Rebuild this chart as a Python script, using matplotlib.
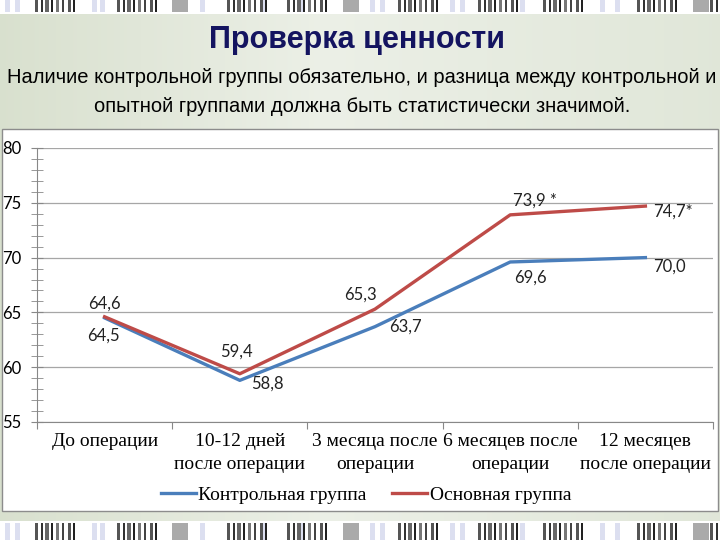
import numpy as np
import matplotlib
matplotlib.use("Agg")
import matplotlib.pyplot as plt
from matplotlib.patches import Rectangle

# chart data
categories = ["До операции", "10-12 дней\nпосле операции", "3 месяца после\nоперации",
              "6 месяцев после\nоперации", "12 месяцев\nпосле операции"]
control = [64.5, 58.8, 63.7, 69.6, 70.0]
main_group = [64.6, 59.4, 65.3, 73.9, 74.7]
control_labels = ["64,5", "58,8", "63,7", "69,6", "70,0"]
main_labels = ["64,6", "59,4", "65,3", "73,9 *", "74,7*"]
series_names = ["Контрольная группа", "Основная группа"]

title = "Проверка ценности"
subtitle = ["Наличие контрольной группы обязательно, и разница между контрольной и",
            "опытной группами должна быть статистически значимой."]

BLUE = "#4a7ebb"
RED = "#be4b48"
W, H = 720, 540


def fx(px):
    return px / W


def fy(py):
    return 1 - py / H


fig = plt.figure(figsize=(7.2, 5.4), dpi=100)
fig.patch.set_facecolor("white")

# slide background gradient (greenish, lighter towards the middle)
bg = fig.add_axes([0, 0, 1, 1], zorder=-10)
bg.axis("off")
stops_x = [0.0, 0.45, 1.0]
stops_c = np.array([[0.85, 0.88, 0.81], [0.925, 0.94, 0.905], [0.88, 0.905, 0.85]])
grad = np.linspace(0, 1, 256)
cols = np.stack([np.interp(grad, stops_x, stops_c[:, k]) for k in range(3)], axis=1)
bg.imshow(cols[np.newaxis, :, :], extent=[0, 1, fy(521), fy(14)], aspect="auto")
bg.set_xlim(0, 1)
bg.set_ylim(0, 1)

# decorative barcode stripes top & bottom
clusters = [35, 117, 227, 287, 398, 478, 543, 637, 710]
greys = [172, 343, 693]
lights = [5, 15, 92, 100, 200, 262, 300, 370, 380, 450, 460, 520, 600, 615]
sub = [(0, 3, "#555555"), (6, 2, "#333333"), (10, 4, "#666666"), (16, 2, "#222222"),
       (21, 3, "#777777"), (27, 2, "#444444"), (33, 3, "#555555"), (38, 2, "#222222")]
for y0, y1 in [(0, 12), (523, 540)]:
    for s in lights:
        bg.add_patch(Rectangle((fx(s), fy(y1)), fx(5), (y1 - y0) / H, color="#dcdff0", lw=0))
    for s in greys:
        bg.add_patch(Rectangle((fx(s), fy(y1)), fx(16), (y1 - y0) / H, color="#aaaaaa", lw=0))
    for s in clusters:
        for off, w, c in sub:
            bg.add_patch(Rectangle((fx(s + off), fy(y1)), fx(w), (y1 - y0) / H, color=c, lw=0))

# chart box
bg.add_patch(Rectangle((fx(2), fy(511)), fx(716), (511 - 129) / H,
                       facecolor="white", edgecolor="#8c8c8c", lw=1))

# title & subtitle
fig.text(fx(357), fy(40), title, ha="center", va="center", fontsize=22, fontweight="bold",
         color="#141460", family="Liberation Sans")
for i, line in enumerate(subtitle):
    fig.text(fx(362), fy(78 + 28 * i), line, ha="center", va="center", fontsize=14.5,
             color="black", family="Liberation Sans")

# plot area
ax = fig.add_axes([fx(37), fy(422), fx(713 - 37), (422 - 148) / H])
ax.set_facecolor("none")
x = np.arange(len(categories))
ax.plot(x, control, color=BLUE, lw=2.4)
ax.plot(x, main_group, color=RED, lw=2.4)
ax.set_xlim(-0.5, 4.5)
ax.set_ylim(55, 80)

ax.set_yticks(range(55, 81, 5))
ax.set_yticks(range(55, 81), minor=True)
ax.yaxis.grid(True, which="major", color="#a6a6a6", lw=0.9)
ax.tick_params(axis="y", which="both", direction="inout", length=8, color="#888888",
               pad=7, labelsize=12)
for t in ax.get_yticklabels():
    t.set_family("Lato")

ax.set_xticks(np.arange(-0.5, 4.6, 1))
ax.set_xticklabels([""] * 6)
ax.set_xticks(x, minor=True)
ax.set_xticklabels(categories, minor=True, family="Liberation Serif", fontsize=14,
                   linespacing=1.45)
ax.tick_params(axis="x", which="major", direction="out", length=5, color="#888888")
ax.tick_params(axis="x", which="minor", length=0, pad=8)

for sp in ["top", "right"]:
    ax.spines[sp].set_visible(False)
for sp in ["left", "bottom"]:
    ax.spines[sp].set_color("#888888")

# data labels: offsets in pixels (dx, dy up)
main_off = [(0, 13, "center"), (-3, 22, "center"), (-15, 14, "center"), (25, 14, "center"), (8, -6, "left")]
ctrl_off = [(-1, -18, "center"), (28, -3, "center"), (30, 0, "center"), (20, -16, "center"), (8, -9, "left")]
for vals, labs, offs in [(main_group, main_labels, main_off), (control, control_labels, ctrl_off)]:
    for xi, v, lab, (dx, dy, ha) in zip(x, vals, labs, offs):
        ax.annotate(lab, (xi, v), xytext=(dx * 0.72, dy * 0.72), textcoords="offset points",
                    ha=ha, va="center", fontsize=12, family="Lato", color="#222222")

# legend
handles = ax.get_lines()
fig.legend(handles, series_names, loc="center", bbox_to_anchor=(fx(366), fy(495)), ncol=2,
           frameon=False, prop={"family": "Liberation Serif", "size": 14},
           handlelength=1.8, handletextpad=0.15, columnspacing=1.3)

fig.savefig("out.png", dpi=100)
